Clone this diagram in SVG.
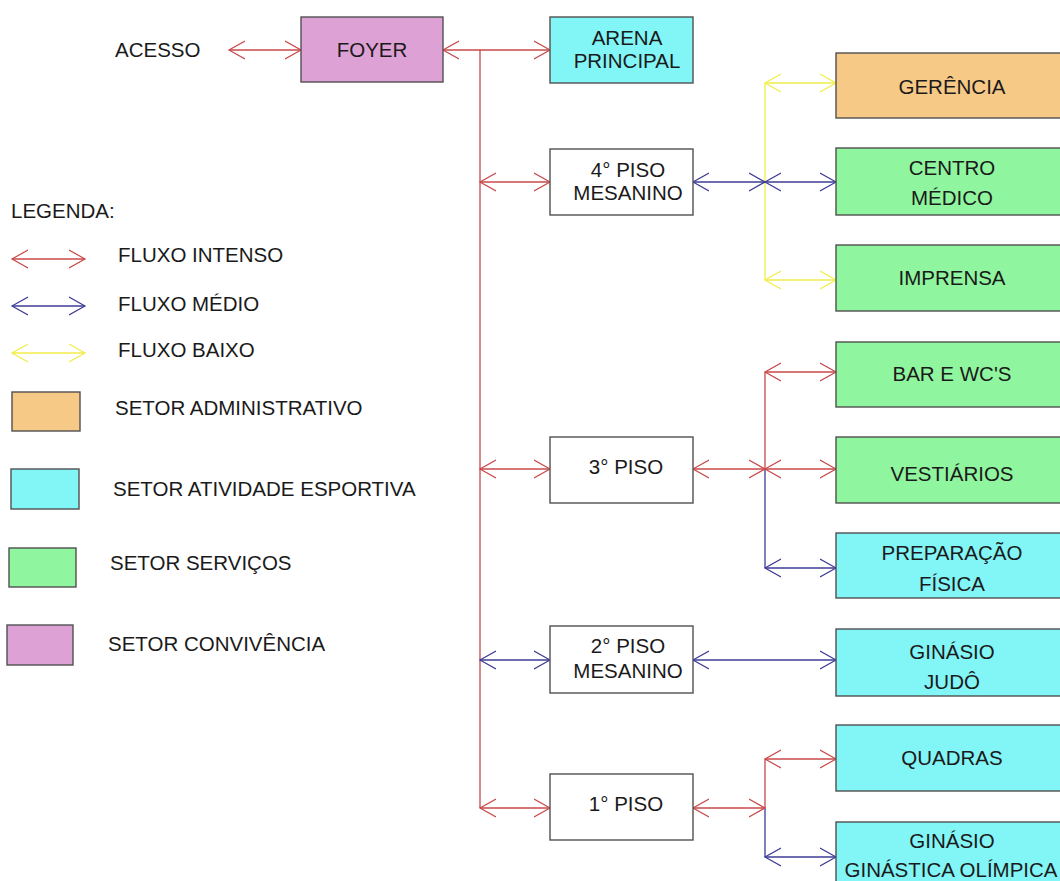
<svg xmlns="http://www.w3.org/2000/svg" width="1060" height="881" viewBox="0 0 1060 881">
<style>
  text { font-family: "Liberation Sans", Arial, sans-serif; font-size: 20.5px; fill: #1a1a1a; }
  .c { text-anchor: middle; }
  .box { stroke: #505050; stroke-width: 1.4; }
  .white { fill: #ffffff; }
  .cyan { fill: #82F5F7; }
  .green { fill: #8FF59E; }
  .orange { fill: #F7C987; }
  .pink { fill: #DEA1D5; }
  .r { stroke: #C84848; stroke-width: 1.3; fill: none; }
  .b { stroke: #3C3C96; stroke-width: 1.3; fill: none; }
  .y { stroke: #F0EE48; stroke-width: 1.3; fill: none; }
  .r.a { marker-start: url(#mr); marker-end: url(#mr); }
  .b.a { marker-start: url(#mb); marker-end: url(#mb); }
  .y.a { marker-start: url(#my); marker-end: url(#my); }
</style>
<defs>
  <marker id="mr" viewBox="0 -10 18 20" refX="16" refY="0" markerWidth="18" markerHeight="20" markerUnits="userSpaceOnUse" orient="auto-start-reverse">
    <path d="M0,-9 L16,0 L0,9" fill="none" stroke="#C84848" stroke-width="1.2"/>
  </marker>
  <marker id="mb" viewBox="0 -10 18 20" refX="16" refY="0" markerWidth="18" markerHeight="20" markerUnits="userSpaceOnUse" orient="auto-start-reverse">
    <path d="M0,-9 L16,0 L0,9" fill="none" stroke="#3C3C96" stroke-width="1.2"/>
  </marker>
  <marker id="my" viewBox="0 -10 18 20" refX="16" refY="0" markerWidth="18" markerHeight="20" markerUnits="userSpaceOnUse" orient="auto-start-reverse">
    <path d="M0,-9 L16,0 L0,9" fill="none" stroke="#F0EE48" stroke-width="1.2"/>
  </marker>
</defs>
<rect width="1060" height="881" fill="#ffffff"/>

<g id="connectors">
  <line class="r a" x1="229" y1="50" x2="301" y2="50"/>
  <line class="r a" x1="443" y1="50" x2="550" y2="50"/>
  <line class="r" x1="480" y1="50" x2="480" y2="808"/>
  <line class="r a" x1="480" y1="182" x2="550" y2="182"/>
  <line class="r a" x1="480" y1="469" x2="550" y2="469"/>
  <line class="b a" x1="480" y1="660" x2="550" y2="660"/>
  <line class="r a" x1="480" y1="808" x2="550" y2="808"/>

  <line class="y" x1="765" y1="83" x2="765" y2="280"/>
  <line class="y a" x1="765" y1="83" x2="836" y2="83"/>
  <line class="y a" x1="765" y1="280" x2="836" y2="280"/>
  <line class="b a" x1="693" y1="182" x2="765" y2="182"/>
  <line class="b a" x1="765" y1="182" x2="836" y2="182"/>

  <line class="r" x1="765" y1="372" x2="765" y2="469"/>
  <line class="b" x1="765" y1="469" x2="765" y2="568"/>
  <line class="r a" x1="765" y1="372" x2="836" y2="372"/>
  <line class="r a" x1="693" y1="469" x2="765" y2="469"/>
  <line class="r a" x1="765" y1="469" x2="836" y2="469"/>
  <line class="b a" x1="765" y1="568" x2="836" y2="568"/>

  <line class="b a" x1="693" y1="660" x2="836" y2="660"/>

  <line class="r" x1="765" y1="759" x2="765" y2="808"/>
  <line class="b" x1="765" y1="808" x2="765" y2="857"/>
  <line class="r a" x1="765" y1="759" x2="836" y2="759"/>
  <line class="r a" x1="693" y1="808" x2="765" y2="808"/>
  <line class="b a" x1="765" y1="857" x2="836" y2="857"/>
</g>

<g id="acesso"><text x="115" y="57">ACESSO</text></g>
<g id="foyer"><rect class="box pink" x="301" y="17" width="142" height="65"/><text class="c" x="372" y="57">FOYER</text></g>
<g id="arena"><rect class="box cyan" x="550" y="17" width="143" height="66"/><text class="c" x="627" y="45">ARENA</text><text class="c" x="627" y="68">PRINCIPAL</text></g>
<g id="piso4"><rect class="box white" x="550" y="149" width="143" height="66"/><text class="c" x="628" y="177">4° PISO</text><text class="c" x="628" y="200">MESANINO</text></g>
<g id="piso3"><rect class="box white" x="550" y="437" width="143" height="66"/><text class="c" x="626" y="474">3° PISO</text></g>
<g id="piso2"><rect class="box white" x="550" y="626" width="143" height="67"/><text class="c" x="628" y="653">2° PISO</text><text class="c" x="628" y="678">MESANINO</text></g>
<g id="piso1"><rect class="box white" x="550" y="774" width="143" height="66"/><text class="c" x="626" y="811">1° PISO</text></g>

<g id="gerencia"><rect class="box orange" x="836" y="53" width="232" height="65"/><text class="c" x="952" y="94">GERÊNCIA</text></g>
<g id="centro-medico"><rect class="box green" x="836" y="148" width="232" height="67"/><text class="c" x="952" y="175">CENTRO</text><text class="c" x="952" y="205">MÉDICO</text></g>
<g id="imprensa"><rect class="box green" x="836" y="245" width="232" height="66"/><text class="c" x="952" y="285">IMPRENSA</text></g>
<g id="bar-wcs"><rect class="box green" x="836" y="342" width="232" height="65"/><text class="c" x="952" y="381">BAR E WC'S</text></g>
<g id="vestiarios"><rect class="box green" x="836" y="437" width="232" height="66"/><text class="c" x="952" y="481">VESTIÁRIOS</text></g>
<g id="preparacao"><rect class="box cyan" x="836" y="533" width="232" height="65"/><text class="c" x="952" y="560">PREPARAÇÃO</text><text class="c" x="952" y="591">FÍSICA</text></g>
<g id="judo"><rect class="box cyan" x="836" y="629" width="232" height="67"/><text class="c" x="952" y="659">GINÁSIO</text><text class="c" x="952" y="689">JUDÔ</text></g>
<g id="quadras"><rect class="box cyan" x="836" y="725" width="232" height="66"/><text class="c" x="952" y="765">QUADRAS</text></g>
<g id="ginastica"><rect class="box cyan" x="836" y="822" width="232" height="66"/><text class="c" x="952" y="848">GINÁSIO</text><text class="c" x="951" y="877" font-size="20">GINÁSTICA OLÍMPICA</text></g>

<g id="legend">
  <text x="11" y="218">LEGENDA:</text>
  <line class="r a" x1="12" y1="259" x2="85" y2="259"/>
  <text x="118" y="262">FLUXO INTENSO</text>
  <line class="b a" x1="12" y1="306" x2="85" y2="306"/>
  <text x="118" y="311">FLUXO MÉDIO</text>
  <line class="y a" x1="12" y1="353" x2="85" y2="353"/>
  <text x="118" y="357">FLUXO BAIXO</text>
  <rect class="box orange" x="12" y="392" width="68" height="39"/>
  <text x="115" y="415">SETOR ADMINISTRATIVO</text>
  <rect class="box cyan" x="11" y="469" width="68" height="40"/>
  <text x="113" y="496">SETOR ATIVIDADE ESPORTIVA</text>
  <rect class="box green" x="9" y="548" width="67" height="39"/>
  <text x="110" y="570">SETOR SERVIÇOS</text>
  <rect class="box pink" x="7" y="625" width="66" height="40"/>
  <text x="108" y="651">SETOR CONVIVÊNCIA</text>
</g>
</svg>
